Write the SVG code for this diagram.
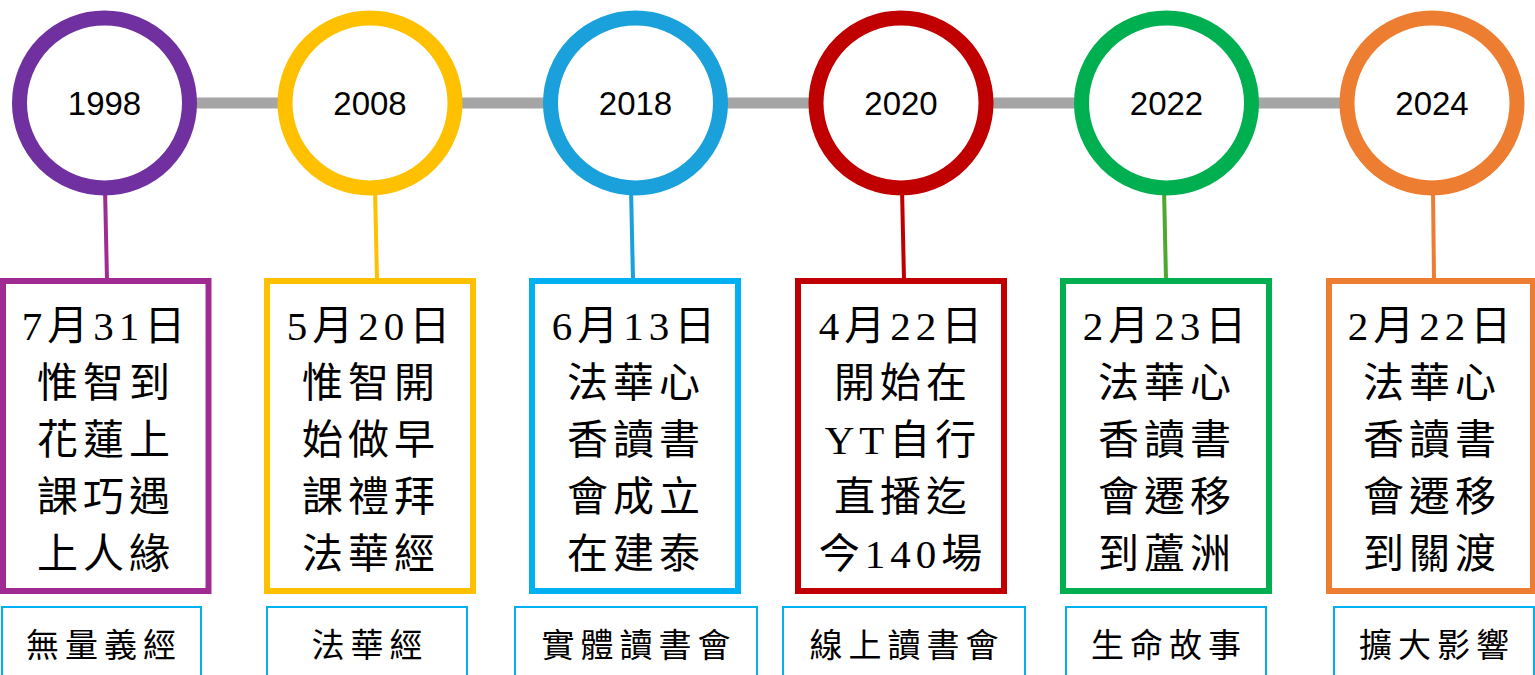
<svg xmlns="http://www.w3.org/2000/svg" width="1535" height="675" viewBox="0 0 1535 675">
<style>
.yr{font-family:"Liberation Sans",Arial,sans-serif;font-size:33px;fill:#000;text-anchor:middle}
.bt{font-family:"Liberation Serif","Noto Sans CJK TC",serif;font-size:41px;fill:#000;text-anchor:middle;letter-spacing:5px}
.lb{font-family:"Liberation Serif","Noto Sans CJK TC",serif;font-size:33px;fill:#000;text-anchor:middle;letter-spacing:6px}
.ring{fill:#fff;stroke-width:15}
.box{fill:#fff;stroke-width:6}
.lbox{fill:#fff;stroke:#00B0F0;stroke-width:2}
.con{stroke-width:4;fill:none}
</style>
<g id="timeline">
<line x1="104" y1="103" x2="1432" y2="103" stroke="#A5A5A5" stroke-width="11"/>
</g>
<g id="connectors">
<line class="con" x1="105" y1="188" x2="107" y2="280" stroke="#A02B93"/>
<line class="con" x1="375" y1="188" x2="377" y2="280" stroke="#FFC000"/>
<line class="con" x1="631" y1="188" x2="633" y2="280" stroke="#1AA0DA"/>
<line class="con" x1="902" y1="188" x2="904" y2="280" stroke="#C00000"/>
<line class="con" x1="1164" y1="188" x2="1166" y2="280" stroke="#4EA72E"/>
<line class="con" x1="1433" y1="188" x2="1434" y2="280" stroke="#ED7D31"/>
</g>
<g id="n1998">
<circle class="ring" cx="104.5" cy="103" r="85" stroke="#7030A0"/>
<text class="yr" x="104.5" y="115">1998</text>
</g>
<g id="n2008">
<circle class="ring" cx="370" cy="103" r="85" stroke="#FFC000"/>
<text class="yr" x="370" y="115">2008</text>
</g>
<g id="n2018">
<circle class="ring" cx="635.5" cy="103" r="85" stroke="#1AA0DA"/>
<text class="yr" x="635.5" y="115">2018</text>
</g>
<g id="n2020">
<circle class="ring" cx="901" cy="103" r="85" stroke="#C00000"/>
<text class="yr" x="901" y="115">2020</text>
</g>
<g id="n2022">
<circle class="ring" cx="1166.5" cy="103" r="85" stroke="#00B050"/>
<text class="yr" x="1166.5" y="115">2022</text>
</g>
<g id="n2024">
<circle class="ring" cx="1432" cy="103" r="85" stroke="#ED7D31"/>
<text class="yr" x="1432" y="115">2024</text>
</g>
<g id="box1">
<rect class="box" x="3" y="281" width="205.5" height="310" stroke="#A02B93"/>
<text class="bt" x="106" y="340">7月31日</text>
<text class="bt" x="106" y="397">惟智到</text>
<text class="bt" x="106" y="454">花蓮上</text>
<text class="bt" x="106" y="511">課巧遇</text>
<text class="bt" x="106" y="568">上人緣</text>
</g>
<g id="box2">
<rect class="box" x="267" y="281" width="206" height="310" stroke="#FFC000"/>
<text class="bt" x="371" y="340">5月20日</text>
<text class="bt" x="371" y="397">惟智開</text>
<text class="bt" x="371" y="454">始做早</text>
<text class="bt" x="371" y="511">課禮拜</text>
<text class="bt" x="371" y="568">法華經</text>
</g>
<g id="box3">
<rect class="box" x="532" y="281" width="206" height="310" stroke="#00B0F0"/>
<text class="bt" x="636" y="340">6月13日</text>
<text class="bt" x="636" y="397">法華心</text>
<text class="bt" x="636" y="454">香讀書</text>
<text class="bt" x="636" y="511">會成立</text>
<text class="bt" x="636" y="568">在建泰</text>
</g>
<g id="box4">
<rect class="box" x="798" y="281" width="206" height="310" stroke="#C00000"/>
<text class="bt" x="903" y="340">4月22日</text>
<text class="bt" x="903" y="397">開始在</text>
<text class="bt" x="903" y="454">YT自行</text>
<text class="bt" x="903" y="511">直播迄</text>
<text class="bt" x="903" y="568">今140場</text>
</g>
<g id="box5">
<rect class="box" x="1063" y="281" width="206" height="310" stroke="#00B050"/>
<text class="bt" x="1167" y="340">2月23日</text>
<text class="bt" x="1167" y="397">法華心</text>
<text class="bt" x="1167" y="454">香讀書</text>
<text class="bt" x="1167" y="511">會遷移</text>
<text class="bt" x="1167" y="568">到蘆洲</text>
</g>
<g id="box6">
<rect class="box" x="1329" y="281" width="204" height="310" stroke="#ED7D31"/>
<text class="bt" x="1432" y="340">2月22日</text>
<text class="bt" x="1432" y="397">法華心</text>
<text class="bt" x="1432" y="454">香讀書</text>
<text class="bt" x="1432" y="511">會遷移</text>
<text class="bt" x="1432" y="568">到關渡</text>
</g>
<g id="label1">
<rect class="lbox" x="2" y="607" width="199" height="72"/>
<text class="lb" x="104" y="657">無量義經</text>
</g>
<g id="label2">
<rect class="lbox" x="267" y="607" width="200" height="72"/>
<text class="lb" x="370" y="657">法華經</text>
</g>
<g id="label3">
<rect class="lbox" x="515" y="607" width="242" height="72"/>
<text class="lb" x="639" y="657">實體讀書會</text>
</g>
<g id="label4">
<rect class="lbox" x="783" y="607" width="242" height="72"/>
<text class="lb" x="907" y="657">線上讀書會</text>
</g>
<g id="label5">
<rect class="lbox" x="1066" y="607" width="200" height="72"/>
<text class="lb" x="1169" y="657">生命故事</text>
</g>
<g id="label6">
<rect class="lbox" x="1334" y="607" width="200" height="72"/>
<text class="lb" x="1437" y="657">擴大影響</text>
</g>
</svg>
